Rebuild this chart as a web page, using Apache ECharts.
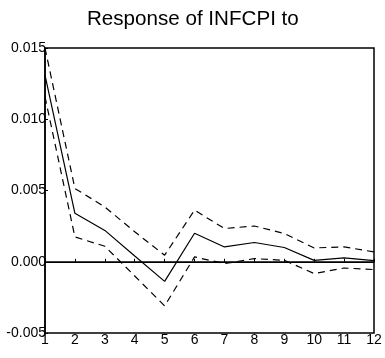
<!DOCTYPE html>
<html>
<head>
<meta charset="utf-8">
<script src="https://cdn.jsdelivr.net/npm/echarts@6/dist/echarts.min.js"></script>
<style>
  html, body { margin: 0; padding: 0; background: #fff; }
  #main { width: 385px; height: 358px; }
</style>
</head>
<body>
<div id="main"></div>
<script>
// periods after the shock
let periods = ['1', '2', '3', '4', '5', '6', '7', '8', '9', '10', '11', '12'];
// impulse response and +/- 2 S.E. bands
let response = [0.0131, 0.0034, 0.0022, 0.0004, -0.00138, 0.0020, 0.00104, 0.00135, 0.0010, 0.0001, 0.00027, 0.00008];
let upperBand = [0.0150, 0.00514, 0.00385, 0.0021, 0.00046, 0.00362, 0.00233, 0.00251, 0.00198, 0.00097, 0.00104, 0.00069];
let lowerBand = [0.01157, 0.00174, 0.00109, -0.0010, -0.0031, 0.00034, -0.00013, 0.00022, 0.0001, -0.00083, -0.00044, -0.00055];

let chartDom = document.getElementById('main');
let myChart = echarts.init(chartDom);
let option;

let font = '"Liberation Sans", Arial, sans-serif';

option = {
    animation: false,
    title: {
        text: 'Response of INFCPI to\nINFCPI',
        left: 82,
        top: 3,
        textStyle: {
            fontFamily: font,
            fontSize: 20.6,
            fontWeight: 'normal',
            color: '#000',
            lineHeight: 22
        }
    },
    // second title line is cut off in the original
    graphic: [{
        type: 'rect',
        z: 100,
        shape: { x: 60, y: 33, width: 220, height: 14 },
        style: { fill: '#fff' }
    }],
    grid: {
        left: 45,
        right: 11,
        top: 48,
        bottom: 25,
        show: true,
        borderColor: '#000',
        borderWidth: 1.5
    },
    xAxis: {
        type: 'category',
        data: periods,
        boundaryGap: false,
        axisLine: { lineStyle: { color: '#000', width: 1.5 } },
        axisTick: { inside: true, length: 3, lineStyle: { color: '#000' } },
        axisLabel: { color: '#000', fontFamily: font, fontSize: 14, margin: 0 },
        splitLine: { show: false }
    },
    yAxis: {
        type: 'value',
        min: -0.005,
        max: 0.015,
        interval: 0.005,
        axisLine: { show: true, lineStyle: { color: '#000', width: 1.5 } },
        axisTick: { show: true, inside: true, length: 3, lineStyle: { color: '#000' } },
        axisLabel: {
            color: '#000',
            fontFamily: font,
            fontSize: 14,
            margin: -1,
            formatter: function (v) { return v.toFixed(3); }
        },
        splitLine: { show: false }
    },
    series: [
        {
            name: 'Response',
            type: 'line',
            data: response,
            showSymbol: false,
            lineStyle: { color: '#000', width: 1.2 },
            markLine: {
                silent: true,
                symbol: ['none', 'none'],
                label: { show: false },
                lineStyle: { color: '#000', type: 'solid', width: 1 },
                data: [{ yAxis: 0 }]
            }
        },
        {
            name: 'Upper',
            type: 'line',
            data: upperBand,
            showSymbol: false,
            lineStyle: { color: '#000', width: 1.2, type: [7, 5] }
        },
        {
            name: 'Lower',
            type: 'line',
            data: lowerBand,
            showSymbol: false,
            lineStyle: { color: '#000', width: 1.2, type: [7, 5] }
        }
    ]
};

option && myChart.setOption(option);
</script>
</body>
</html>
